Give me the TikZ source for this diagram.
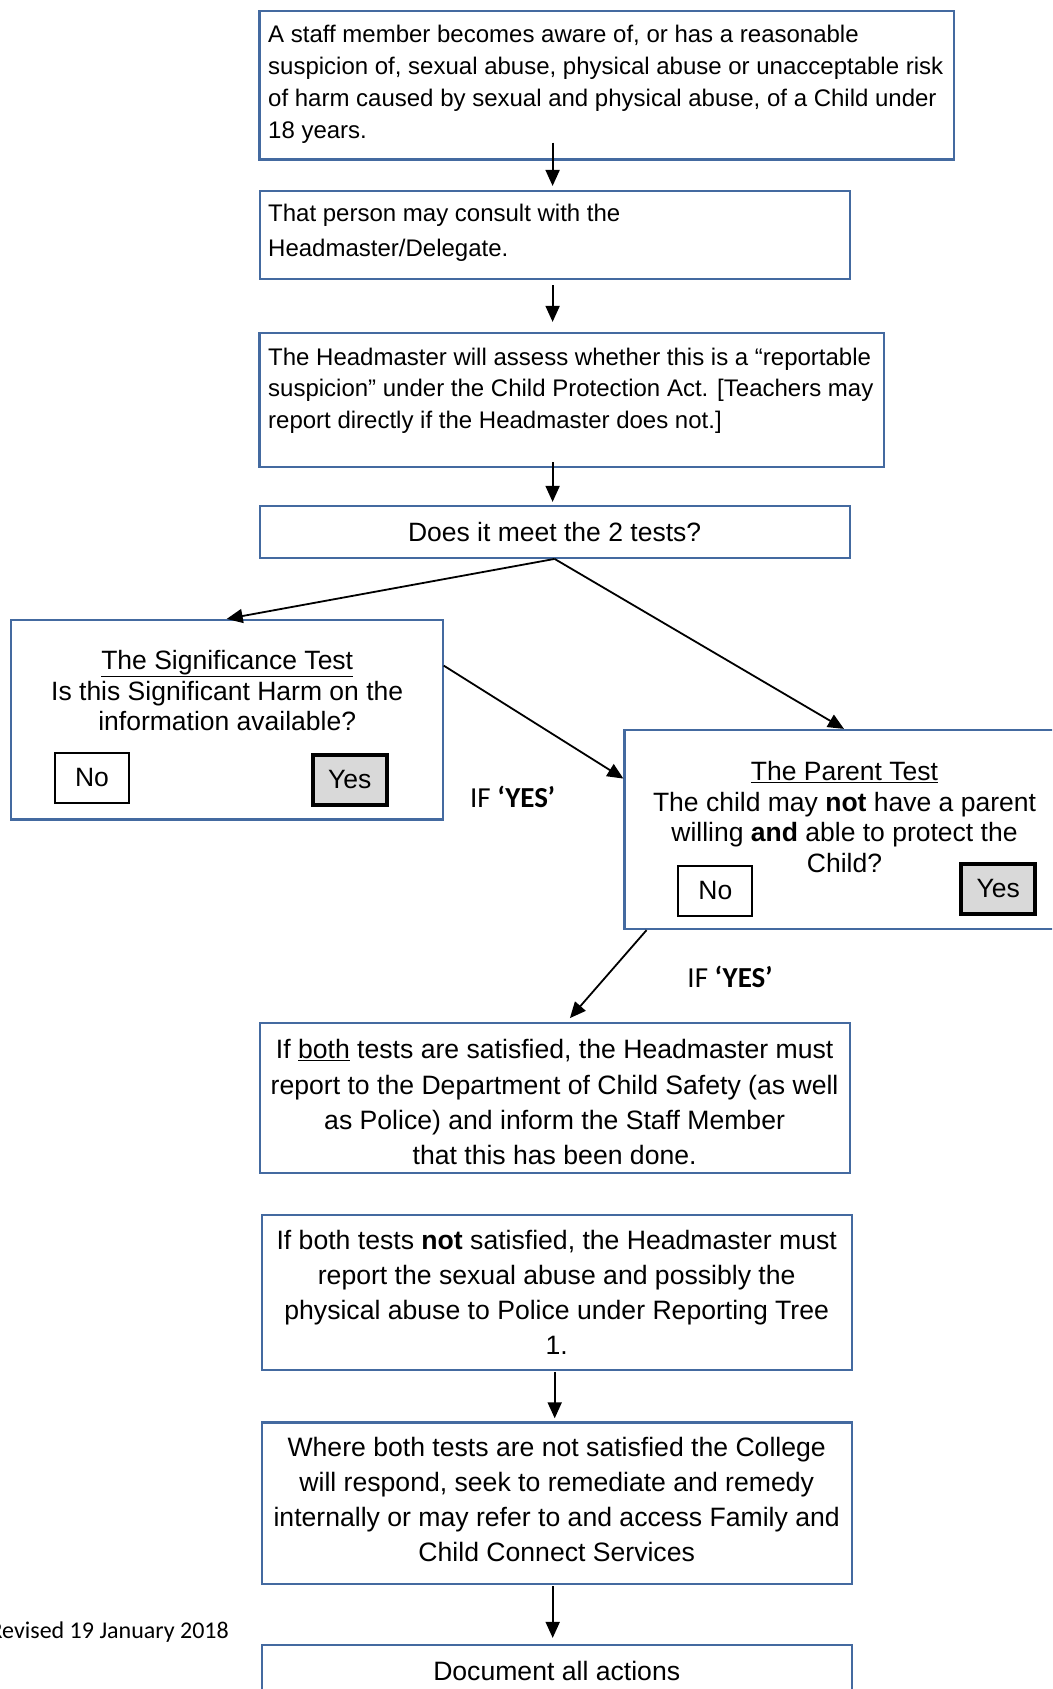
\documentclass[tikz,border=0pt]{standalone}
\usepackage{fontspec}
\setmainfont{Liberation Sans}
\newfontfamily\calibrifont{Carlito}
\usetikzlibrary{arrows.meta}
\definecolor{boxblue}{RGB}{68,106,160}
\definecolor{yesgray}{RGB}{217,217,217}

\tikzset{
  flowbox/.style={draw=boxblue, line width=2.2pt, inner sep=0pt},
  lefttext/.style={anchor=west, align=left, inner sep=0pt},
  midbox/.style={flowbox, align=center, minimum width=590pt,
    font=\fontsize{26.6}{35.2}\selectfont},
  answerbox/.style={draw=black, line width=2pt, minimum width=74pt,
    minimum height=50pt, inner sep=0pt, font=\fontsize{26.5}{30}\selectfont},
  yesbox/.style={answerbox, fill=yesgray, line width=4pt},
  iflabel/.style={font=\calibrifont\fontsize{29}{32}\selectfont},
  flowarrow/.style={line width=1.8pt, -{Triangle[length=16pt,width=14pt]}}
}

\begin{document}
\begin{tikzpicture}[x=1pt,y=-1pt]
\useasboundingbox (0,0) rectangle (1052,1689);
\clip (0,0) rectangle (1052,1689);
% Top of the tree
\node[flowbox, minimum width=694.5pt, minimum height=148.6pt] (aware) at (606.8,85.1) {};
\node[lefttext, font=\fontsize{24}{32}\selectfont] (awaretext) at (268,84.4)
  {A staff member becomes aware of, or has a reasonable\\suspicion of, sexual abuse, physical abuse or unacceptable risk\\of harm caused by sexual and physical abuse, of a Child under\\18 years.};
\node[flowbox, minimum width=590pt, minimum height=88.3pt] (consult) at (554.6,234.8) {};
\node[lefttext, font=\fontsize{24}{34.5}\selectfont] (consulttext) at (268,233)
  {That person may consult with the\\Headmaster/Delegate.};
\node[flowbox, minimum width=624.5pt, minimum height=134.6pt] (assess) at (571.8,400) {};
\node[lefttext, font=\fontsize{24}{31.8}\selectfont] (assesstext) at (268,390.7)
  {The Headmaster will assess whether this is a “reportable\\suspicion” under the Child Protection Act. [Teachers may\\report directly if the Headmaster does not.]};
\node[flowbox, minimum width=590pt, minimum height=51.8pt, font=\fontsize{26.5}{30}\selectfont] (tests) at (554.6,531.9)
  {Does it meet the 2 tests?};
% The significance test
\node[flowbox, minimum width=431.8pt, minimum height=199.4pt] (sig) at (226.7,719.7) {};
\node[align=center, inner sep=0pt, font=\fontsize{26.5}{30.7}\selectfont] (sigtext) at (227.2,690.7)
  {\underline{The Significance Test}\\Is this Significant Harm on the\\information available?};
\node[answerbox] (signo) at (92,778) {No};
\node[yesbox] (sigyes) at (349.8,779.7) {Yes};
% The parent test
\node[flowbox, minimum width=439pt, minimum height=199pt] (parent) at (844,829.5) {};
\node[align=center, inner sep=0pt, font=\fontsize{26.5}{30.5}\selectfont] (parenttext) at (844.5,816.8)
  {\underline{The Parent Test}\\The child may \textbf{not} have a parent\\willing \textbf{and} able to protect the\\Child?};
\node[answerbox] (parno) at (715.4,890.6) {No};
\node[yesbox] (paryes) at (998.2,888.9) {Yes};
% Labels
\node[iflabel] (ifyes1) at (512.6,796.8) {IF \textbf{‘YES’}};
\node[iflabel] (ifyes2) at (730,976.6) {IF \textbf{‘YES’}};
% Bottom of the tree
\node[midbox, minimum height=149.6pt] (both) at (554.6,1097.8)
  {\rule{0pt}{28pt}If \underline{both} tests are satisfied, the Headmaster must\\report to the Department of Child Safety (as well\\as Police) and inform the Staff Member\\that this has been done.};
\node[midbox, minimum height=155pt] (notboth) at (556.7,1292.2)
  {If both tests \textbf{not} satisfied, the Headmaster must\\report the sexual abuse and possibly the\\physical abuse to Police under Reporting Tree\\1.};
\node[midbox, minimum height=161.6pt] (college) at (556.7,1503.2)
  {Where both tests are not satisfied the College\\will respond, seek to remediate and remedy\\internally or may refer to and access Family and\\Child Connect Services\rule[-8pt]{0pt}{1pt}};
\node[midbox, minimum height=52pt] (document) at (556.7,1671) {Document all actions};
\node[anchor=east, inner sep=0pt, font=\calibrifont\fontsize{24}{28}\selectfont] (revised) at (229,1632) {Revised 19 January 2018};
% Arrows
\draw[flowarrow, shorten <=-18pt, shorten >=3.6pt] ([xshift=-2pt]aware.south -| consult.north) -- ([xshift=-2pt]consult.north);
\draw[flowarrow, shorten <=5pt, shorten >=9.7pt] ([xshift=-2pt]consult.south) -- ([xshift=-2pt]consult.south |- assess.north);
\draw[flowarrow, shorten <=-6pt, shorten >=3pt] ([xshift=-2pt]assess.south -| tests.north) -- ([xshift=-2pt]tests.north);
\draw[flowarrow] (tests.south) -- (sig.north);
\draw[flowarrow] (tests.south) -- (parent.north);
\draw[flowarrow] (sig.14.6) -- (parent.167.5);
\draw[flowarrow, shorten >=5pt] (parent.207.1) -- (both.81.9);
\draw[flowarrow, shorten <=1pt, shorten >=3pt] ([xshift=-2pt]notboth.south) -- ([xshift=-2pt]college.north);
\draw[flowarrow, shorten <=1pt, shorten >=6pt] ([xshift=-4pt]college.south) -- ([xshift=-4pt]document.north);
\end{tikzpicture}
\end{document}
